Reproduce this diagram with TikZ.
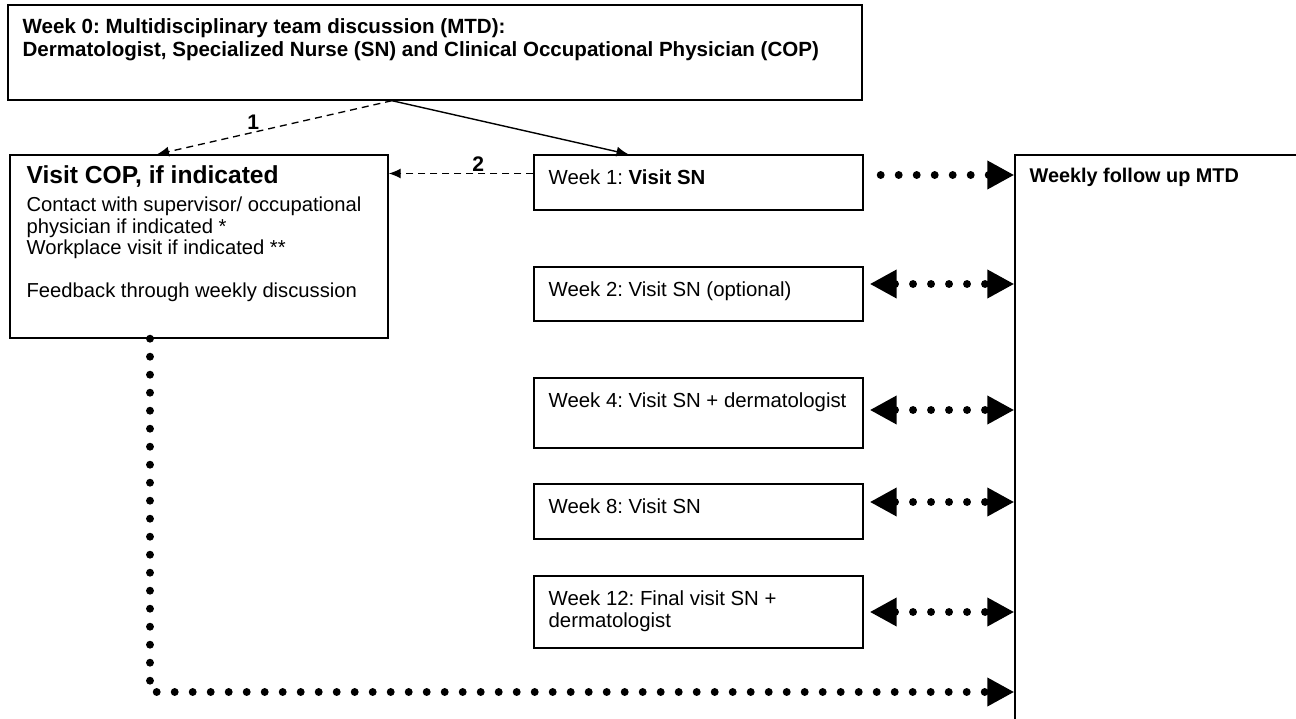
\documentclass[tikz,border=0pt]{standalone}
\usepackage{fontspec}
\setmainfont{Liberation Sans}
\usetikzlibrary{arrows.meta}

\tikzset{
  box/.style={rectangle, draw, line width=0.8pt},
  boxtext/.style={anchor=north west, align=left, inner xsep=0.3cm, inner ysep=0.3cm, font=\fontsize{11.6}{12.6}\selectfont},
  numlabel/.style={above, inner sep=1pt, font=\bfseries\fontsize{12}{12}\selectfont},
  solidarrow/.style={-{Latex[length=2.4mm,width=2mm]}, line width=0.8pt},
  dashedarrow/.style={-{Latex[length=2.4mm,width=2mm]}, line width=0.75pt, dash pattern=on 1.4mm off 1mm},
  dotline/.style={line width=4.5pt, line cap=round, dash pattern=on 0pt off 3.6mm},
  dotarrow/.style={dotline, -{Triangle[length=5.4mm,width=5.4mm]}},
  dotboth/.style={dotline, {Triangle[length=5.4mm,width=5.4mm]}-{Triangle[length=5.4mm,width=5.4mm]}, shorten <=0.12cm}
}

\begin{document}
\frenchspacing
\begin{tikzpicture}
  \useasboundingbox (0,0) rectangle (25.92,-14.38);
  % Nodes
  \node (top) [box, minimum height=1.9cm, minimum width=17.08cm] at (8.70,-1.05) {};
  \node (top-t) [boxtext, font=\bfseries\fontsize{11.7}{13.3}\selectfont, inner ysep=0.28cm] at (top.north west)
    {Week 0: Multidisciplinary team discussion (MTD):\\Dermatologist, Specialized Nurse (SN) and Clinical Occupational Physician (COP)};
  \node (cop) [box, minimum height=3.66cm, minimum width=7.56cm] at (3.98,-4.93) {};
  \node (cop-t) [boxtext, font=\fontsize{11.5}{12.2}\selectfont, inner xsep=0.34cm, inner ysep=0.22cm] at (cop.north west)
    {{\bfseries\fontsize{14}{16}\selectfont Visit COP, if indicated}\\[4pt]
     Contact with supervisor/ occupational\\physician if indicated *\\Workplace visit if indicated **\\[12pt]
     Feedback through weekly discussion};
  \node (wk1) [box, minimum height=1.1cm, minimum width=6.58cm] at (13.97,-3.65) {};
  \node (wk1-t) [boxtext] at (wk1.north west) {Week 1: \textbf{Visit SN}};
  \node (wk2) [box, minimum height=1.08cm, minimum width=6.58cm] at (13.97,-5.88) {};
  \node (wk2-t) [boxtext] at (wk2.north west) {Week 2: Visit SN (optional)};
  \node (wk4) [box, minimum height=1.4cm, minimum width=6.58cm] at (13.97,-8.26) {};
  \node (wk4-t) [boxtext] at (wk4.north west) {Week 4: Visit SN + dermatologist};
  \node (wk8) [box, minimum height=1.1cm, minimum width=6.58cm] at (13.97,-10.23) {};
  \node (wk8-t) [boxtext] at (wk8.north west) {Week 8: Visit SN};
  \node (wk12) [box, minimum height=1.44cm, minimum width=6.58cm] at (13.97,-12.24) {};
  \node (wk12-t) [boxtext] at (wk12.north west) {Week 12: Final visit SN +\\dermatologist};
  \node (mtd) [box, minimum height=11.9cm, minimum width=6.2cm] at (23.4,-9.05) {};
  \node (mtd-t) [boxtext, font=\bfseries\fontsize{11.3}{13}\selectfont, inner ysep=0.26cm] at (mtd.north west) {Weekly follow up MTD};
  \coordinate (corner) at (3.0,-13.84);
  % Arrow
  \draw[solidarrow] ([xshift=-0.86cm]top.south) -- ([xshift=-1.4cm]wk1.north);
  \draw[dashedarrow] ([xshift=-0.86cm]top.south) -- ([xshift=-0.84cm]cop.north) node[numlabel, pos=0.59] {1};
  \draw[dashedarrow] ([yshift=0.18cm]wk1.west) -- ([yshift=0.18cm]wk1.west -| cop.east) node[numlabel, pos=0.38] {2};
  % Follow up
  \draw[dotarrow, shorten <=0.34cm] ([yshift=0.15cm]wk1.east) -- ([yshift=0.15cm]wk1.east -| mtd.west);
  \draw[dotboth] ([yshift=0.2cm]wk2.east) -- ([yshift=0.2cm]wk2.east -| mtd.west);
  \draw[dotboth] ([yshift=0.06cm]wk4.east) -- ([yshift=0.06cm]wk4.east -| mtd.west);
  \draw[dotboth] ([yshift=0.19cm]wk8.east) -- ([yshift=0.19cm]wk8.east -| mtd.west);
  \draw[dotboth] (wk12.east) -- (wk12.east -| mtd.west);
  \draw[dotarrow] (cop.south -| corner) -- (corner) -- (corner -| mtd.west);
\end{tikzpicture}
\end{document}
